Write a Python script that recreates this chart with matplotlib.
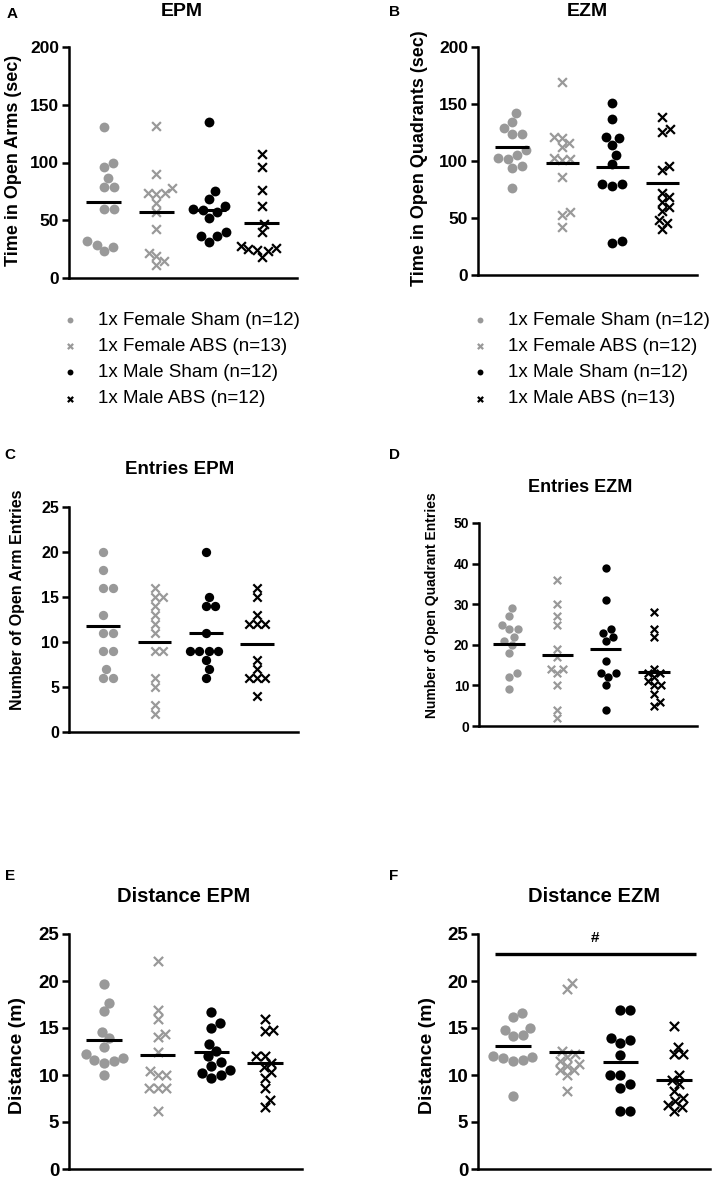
import numpy as np
import matplotlib
matplotlib.use('Agg')
import matplotlib.pyplot as plt

plt.rcParams['font.family'] = ['Liberation Sans', 'DejaVu Sans']

W, H = 714, 1179

# groups: female sham, female ABS, male sham, male ABS
a_f_sham = [131, 100, 96, 87, 79, 79, 60, 60, 32, 29, 27, 23]
a_f_abs = [132, 90, 78, 74, 74, 73, 65, 57, 42, 22, 19, 15, 11]
a_m_sham = [135, 75, 68, 62, 60, 59, 57, 52, 40, 36, 36, 31]
a_m_abs = [107, 96, 76, 62, 47, 40, 28, 26, 25, 24, 23, 18]
a_means = [66, 57.5, 59, 48]

b_f_sham = [142, 134, 129, 124, 124, 110, 105, 103, 102, 96, 94, 76]
b_f_abs = [169, 121, 120, 116, 112, 103, 102, 101, 86, 55, 53, 42]
b_m_sham = [151, 137, 121, 120, 114, 105, 97, 80, 80, 78, 30, 28]
b_m_abs = [139, 128, 125, 96, 92, 72, 68, 64, 60, 56, 48, 46, 40]
b_means = [112, 98, 95, 81]

c_f_sham = [20, 18, 16, 16, 13, 11, 11, 9, 9, 7, 6, 6]
c_f_abs = [16, 15, 15, 14, 13, 12, 11, 9, 9, 6, 5, 3, 2]
c_m_sham = [20, 15, 14, 14, 11, 9, 9, 9, 9, 8, 7, 6]
c_m_abs = [16, 15, 13, 12, 12, 12, 8, 7, 6, 6, 6, 4]
c_means = [11.8, 10, 11, 9.8]

d_f_sham = [29, 27, 25, 24, 24, 22, 21, 20, 18, 13, 12, 9]
d_f_abs = [36, 30, 27, 25, 19, 17, 14, 14, 13, 10, 4, 2]
d_m_sham = [39, 31, 24, 23, 22, 21, 16, 13, 13, 12, 10, 4]
d_m_abs = [28, 24, 22, 14, 13, 13, 12, 11, 10, 10, 8, 6, 5]
d_means = [20.2, 17.5, 19, 13.2]

e_f_sham = [19.7, 17.7, 16.8, 14.6, 13.9, 13.0, 12.2, 11.8, 11.6, 11.5, 11.3, 10.0]
e_f_abs = [22.1, 16.9, 16.0, 14.4, 14.0, 12.4, 10.4, 10.0, 10.0, 8.6, 8.6, 8.6, 6.2]
e_m_sham = [16.7, 15.5, 15.0, 13.3, 12.6, 12.0, 11.4, 11.0, 10.5, 10.2, 10.0, 9.7]
e_m_abs = [16.0, 14.8, 14.7, 12.0, 12.0, 11.3, 10.8, 10.3, 9.7, 8.6, 7.3, 6.6]
e_means = [13.7, 12.1, 12.4, 11.3]

f_f_sham = [16.6, 16.2, 15.0, 14.8, 14.3, 14.2, 12.0, 11.9, 11.8, 11.6, 11.5, 7.8]
f_f_abs = [19.8, 19.1, 12.6, 12.2, 11.9, 11.5, 11.2, 11.0, 10.5, 10.5, 10.0, 8.3]
f_m_sham = [16.9, 16.9, 13.9, 13.7, 13.4, 12.1, 10.0, 10.0, 9.0, 8.6, 6.2, 6.2]
f_m_abs = [15.2, 13.0, 12.2, 12.2, 10.0, 9.5, 9.0, 8.3, 7.6, 7.2, 6.8, 6.6, 6.2]
f_means = [13.1, 12.4, 11.35, 9.5]

legend_a = ['1x Female Sham (n=12)', '1x Female ABS (n=13)', '1x Male Sham (n=12)', '1x Male ABS (n=12)']
legend_b = ['1x Female Sham (n=12)', '1x Female ABS (n=12)', '1x Male Sham (n=12)', '1x Male ABS (n=13)']

GREY = '#999999'
markers = ['o', 'x', 'o', 'x']
colors = [GREY, GREY, 'black', 'black']


def swarm(vals, ppu_y, ppu_x, diam):
    # simple beeswarm: put each point as close to the centre as it fits
    vals = np.asarray(vals, float)
    offs = np.zeros(len(vals))
    placed = []
    for i in np.argsort(vals):
        y = vals[i] * ppu_y
        ivs = []
        for px, py in placed:
            dy = abs(py - y)
            if dy < diam:
                dx = np.sqrt(diam ** 2 - dy ** 2)
                ivs.append((px - dx, px + dx))
        cands = [0.0] + [e for iv in ivs for e in iv]
        cands.sort(key=lambda c: (abs(c), c < 0))
        x = 0.0
        for c in cands:
            if all(not (a + 1e-6 < c < b - 1e-6) for a, b in ivs):
                x = c
                break
        placed.append((x, y))
        offs[i] = x / ppu_x
    return offs


def px_axes(l, t, r, b):
    return fig.add_axes([l / W, 1 - b / H, (r - l) / W, (b - t) / H])


def ftext(x, y, s, **kw):
    fig.text(x / W, 1 - y / H, s, ha='center', va='center', **kw)


def panel(box, groups, means, ymax, step, xlim, tick_fs, diam=10, msize=50):
    l, t, r, b = box
    ax = px_axes(l, t, r, b)
    ax.set_xlim(*xlim)
    ax.set_ylim(0, ymax)
    ppu_y = (b - t) / ymax
    ppu_x = (r - l) / (xlim[1] - xlim[0])
    handles = []
    for i, vals in enumerate(groups):
        if markers[i] == 'o':
            offs = swarm(vals, ppu_y, ppu_x, diam)
            h = ax.scatter(i + offs, vals, s=msize, marker='o', color=colors[i],
                           linewidths=0, zorder=3, clip_on=False)
        else:
            offs = swarm(vals, ppu_y, ppu_x, diam * 0.85)
            h = ax.scatter(i + offs, vals, s=msize * 0.8, marker='x', color=colors[i],
                           linewidths=1.6, zorder=3, clip_on=False)
        handles.append(h)
        ax.hlines(means[i], i - 0.33, i + 0.33, color='black', lw=2.2, zorder=4)
    for side in ['top', 'right']:
        ax.spines[side].set_visible(False)
    for side in ['left', 'bottom']:
        ax.spines[side].set_linewidth(1.8)
    ax.set_xticks([])
    ax.set_yticks(np.arange(0, ymax + 0.1, step))
    ax.tick_params(axis='y', length=5, width=1.8, labelsize=tick_fs, pad=2)
    for lab in ax.get_yticklabels():
        lab.set_fontweight('bold')
    return ax, handles


def add_legend(ax, hs, labels, left, top):
    ax.legend(hs, labels, loc='upper left', bbox_to_anchor=(left / W, 1 - top / H),
              bbox_transform=fig.transFigure, frameon=False, fontsize=13.5,
              handlelength=1, handletextpad=0.95, labelspacing=0.48, borderpad=0,
              borderaxespad=0, markerscale=0.6, scatterpoints=1)


fig = plt.figure(figsize=(W / 100, H / 100), dpi=100)

# A
ax_a, hs = panel((69, 47, 297, 278), [a_f_sham, a_f_abs, a_m_sham, a_m_abs], a_means,
                 200, 50, (-0.66, 3.67), 12.5)
ftext(12, 14, 'A', fontsize=11, fontweight='bold')
ftext(182, 12, 'EPM', fontsize=14, fontweight='bold')
ftext(14, 160, 'Time in Open Arms (sec)', fontsize=13, fontweight='bold', rotation=90)
add_legend(ax_a, hs, legend_a, 61, 312)

# B
ax_b, hs = panel((478, 47, 697, 275), [b_f_sham, b_f_abs, b_m_sham, b_m_abs], b_means,
                 200, 50, (-0.68, 3.7), 12.5)
ftext(395, 12, 'B', fontsize=11, fontweight='bold')
ftext(587, 12, 'EZM', fontsize=14, fontweight='bold')
ftext(420, 158, 'Time in Open Quadrants (sec)', fontsize=13, fontweight='bold', rotation=90)
add_legend(ax_b, hs, legend_b, 471, 312)

# C
panel((69, 507, 298, 732), [c_f_sham, c_f_abs, c_m_sham, c_m_abs], c_means,
      25, 5, (-0.67, 3.8), 11.5, diam=9.5, msize=45)
ftext(10, 455, 'C', fontsize=11, fontweight='bold')
ftext(180, 470, 'Entries EPM', fontsize=13.5, fontweight='bold')
ftext(18, 600, 'Number of Open Arm Entries', fontsize=11.5, fontweight='bold', rotation=90)

# D
panel((479, 523, 697, 726), [d_f_sham, d_f_abs, d_m_sham, d_m_abs], d_means,
      50, 10, (-0.63, 3.9), 10, diam=8.5, msize=36)
ftext(395, 455, 'D', fontsize=11, fontweight='bold')
ftext(580, 488, 'Entries EZM', fontsize=13, fontweight='bold')
ftext(432, 605, 'Number of Open Quadrant Entries', fontsize=10, fontweight='bold', rotation=90)

# E
panel((69, 934, 302, 1169), [e_f_sham, e_f_abs, e_m_sham, e_m_abs], e_means,
      25, 5, (-0.65, 3.69), 13.5, diam=10, msize=55)
ftext(10, 876, 'E', fontsize=11, fontweight='bold')
ftext(184, 897, 'Distance EPM', fontsize=14.5, fontweight='bold')
ftext(18, 1055, 'Distance (m)', fontsize=14, fontweight='bold', rotation=90)

# F
ax_f, _ = panel((478, 934, 710, 1169), [f_f_sham, f_f_abs, f_m_sham, f_m_abs], f_means,
                25, 5, (-0.65, 3.67), 13.5, diam=10, msize=55)
ftext(394, 876, 'F', fontsize=11, fontweight='bold')
ftext(594, 897, 'Distance EZM', fontsize=14.5, fontweight='bold')
ftext(427, 1055, 'Distance (m)', fontsize=14, fontweight='bold', rotation=90)
ax_f.hlines(22.9, -0.34, 3.41, color='black', lw=2.4)
ax_f.text(1.53, 24.6, '#', ha='center', va='center', fontsize=11, fontweight='bold')

fig.savefig('out.png', dpi=100)
